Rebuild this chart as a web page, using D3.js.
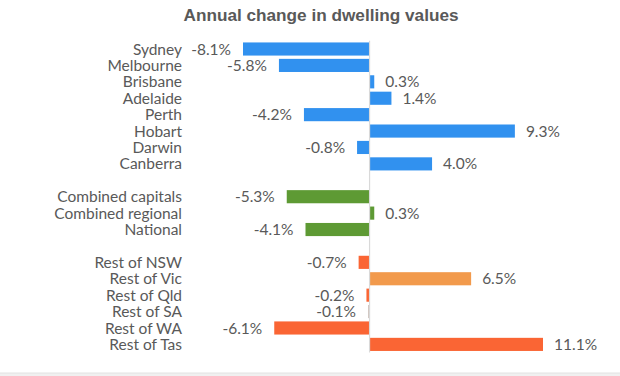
<!DOCTYPE html>
<html>
<head>
<meta charset="utf-8">
<script src="https://cdn.jsdelivr.net/npm/d3@7"></script>
<style>
  body { margin: 0; background: #fff; }
  svg { display: block; }
</style>
</head>
<body>
<div id="chart"></div>
<script>
// categories in display order (gap1 / gap2 = spacer rows)
const categories = [
    "Sydney", "Melbourne", "Brisbane", "Adelaide", "Perth", "Hobart", "Darwin", "Canberra",
    "gap1",
    "Combined capitals", "Combined regional", "National",
    "gap2",
    "Rest of NSW", "Rest of Vic", "Rest of Qld", "Rest of SA", "Rest of WA", "Rest of Tas"
];
const values = [
    -8.1, -5.8, 0.3, 1.4, -4.2, 9.3, -0.8, 4.0,
    null,
    -5.3, 0.3, -4.1,
    null,
    -0.7, 6.5, -0.2, -0.1, -6.1, 11.1
];
const groups = [
    "city", "city", "city", "city", "city", "city", "city", "city",
    null,
    "combined", "combined", "combined",
    null,
    "rest", "restVic", "rest", "restSA", "rest", "rest"
];

const colors = {
    city: "#3191EF",
    combined: "#5E9A34",
    rest: "#FA6534",
    restVic: "#F29A4C",
    restSA: "#d2c7c2"
};

const W = 620, H = 376;
const rows = categories.map((c, i) => ({ key: c, value: values[i], group: groups[i] }));

const svg = d3.select("#chart").append("svg")
    .attr("width", W).attr("height", H);

const x = d3.scaleLinear().domain([-8.1, 11.1]).range([243, 543]);
const y = d3.scaleBand().domain(categories).range([40.8, 352.6]).paddingInner(0.2).paddingOuter(0.1);

const textColor = "#595959";
const fmt = v => d3.format(".1f")(v).replace("\u2212", "-") + "%";

// title
svg.append("text")
    .attr("x", 321).attr("y", 21)
    .attr("text-anchor", "middle")
    .attr("font-family", "Liberation Sans")
    .attr("font-weight", "bold").attr("font-size", 17.2)
    .attr("fill", textColor)
    .text("Annual change in dwelling values");

const data = rows.filter(d => d.value !== null);

// bars
svg.selectAll("rect.bar")
    .data(data)
    .join("rect")
    .attr("class", "bar")
    .attr("x", d => x(Math.min(0, d.value)))
    .attr("y", d => y(d.key))
    .attr("width", d => Math.abs(x(d.value) - x(0)))
    .attr("height", y.bandwidth())
    .attr("fill", d => colors[d.group]);

// zero line
svg.append("line")
    .attr("x1", x(0)).attr("x2", x(0))
    .attr("y1", y.range()[0]).attr("y2", y.range()[1])
    .attr("stroke", "#d9d9d9").attr("stroke-width", 1.2);

// category labels
svg.selectAll("text.cat")
    .data(data)
    .join("text")
    .attr("class", "cat")
    .attr("x", 182)
    .attr("y", d => y(d.key) + y.bandwidth() / 2)
    .attr("dy", "0.36em")
    .attr("text-anchor", "end")
    .style("font-family", "Lato, sans-serif")
    .style("font-size", "15.5px")
    .style("fill", textColor)
    .text(d => d.key);

// value labels
svg.selectAll("text.val")
    .data(data)
    .join("text")
    .attr("class", "val")
    .attr("x", d => d.value < 0 ? x(d.value) - 12 : x(d.value) + 11)
    .attr("y", d => y(d.key) + y.bandwidth() / 2)
    .attr("dy", "0.36em")
    .attr("text-anchor", d => d.value < 0 ? "end" : "start")
    .style("font-family", "Lato, sans-serif")
    .style("font-size", "15.5px")
    .style("fill", textColor)
    .text(d => fmt(d.value));

// bottom strip
svg.append("rect")
    .attr("x", 0).attr("y", 373).attr("width", W).attr("height", 3)
    .attr("fill", "#f0f0f0");
svg.append("line")
    .attr("x1", 0).attr("x2", W).attr("y1", 373).attr("y2", 373)
    .attr("stroke", "#e2e2e2");
</script>
</body>
</html>
